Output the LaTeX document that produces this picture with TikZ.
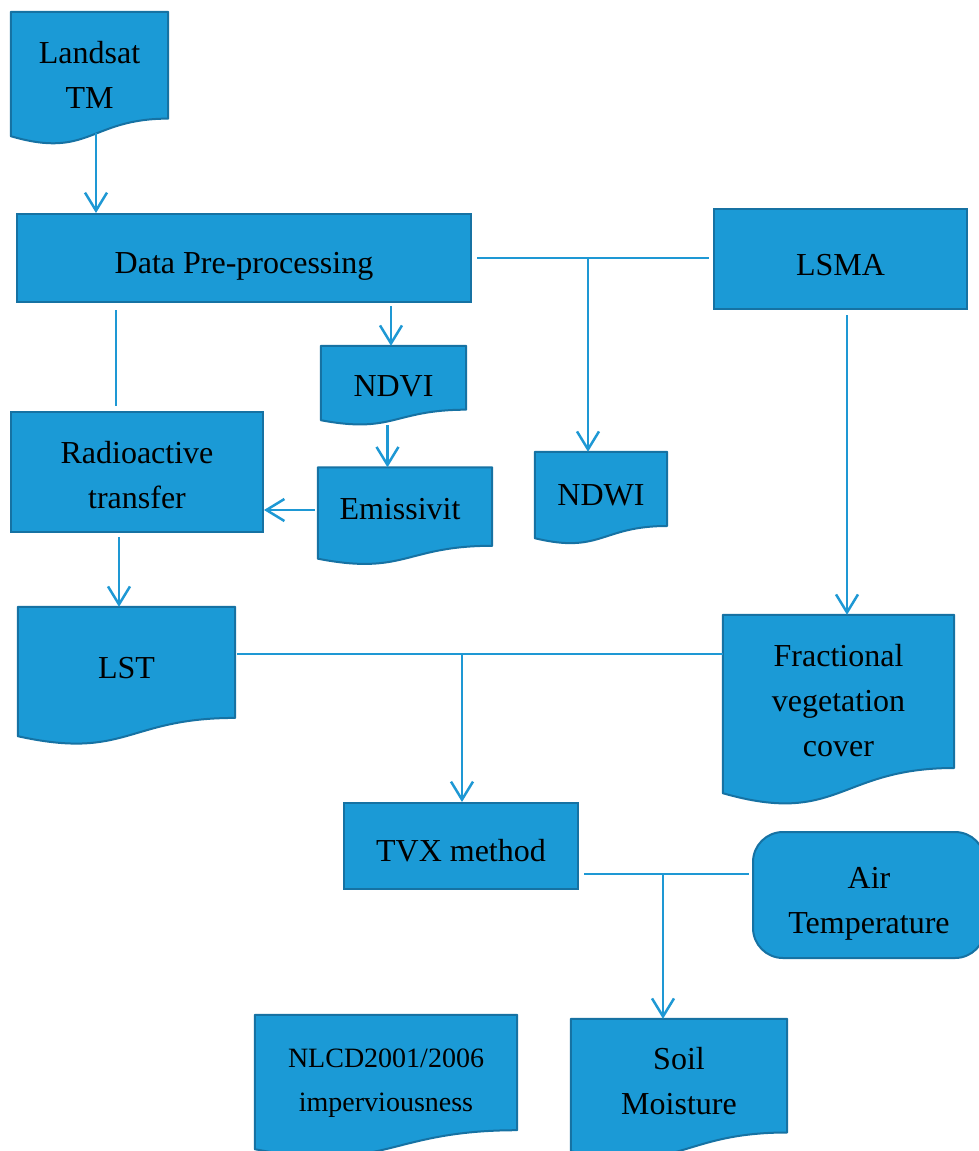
\documentclass[tikz,border=0pt]{standalone}
\usepackage{fontspec}
\setmainfont{Liberation Serif}
\usetikzlibrary{arrows.meta,calc}
\definecolor{boxfill}{RGB}{27,154,214}
\definecolor{boxline}{RGB}{22,114,163}
\definecolor{connc}{RGB}{30,152,212}
\pgfdeclarelayer{bg}
\pgfsetlayers{bg,main}
\newcommand{\mydocshape}[1]{%
 \begin{pgfonlayer}{bg}
 \path[docstyle] let \p1=(#1.north west), \p2=(#1.south east) in
   (\x1,\y1) -- (\x2,\y1) -- (\x2,{\y1+0.8587*(\y2-\y1)})
   .. controls ({0.5*(\x1+\x2)},{\y1+0.8587*(\y2-\y1)}) and ({0.5*(\x1+\x2)},{\y1+1.1858*(\y2-\y1)}) .. (\x1,\y2) -- cycle;
 \end{pgfonlayer}}
\tikzset{
  base/.style={font=\fontsize{32}{45}\selectfont, align=center, inner sep=0pt, text=black, text depth=0pt},
  procbox/.style={base, draw=boxline, fill=boxfill, line width=2pt},
  docnode/.style={base},
  docstyle/.style={draw=boxline, fill=boxfill, line width=2pt, line join=round},
  conn/.style={draw=connc, line width=2.5pt},
  thinconn/.style={draw=connc, line width=1.5pt},
  arr/.style={conn, -{Straight Barb[length=18pt,width=22pt]}},
}
\begin{document}
\begin{tikzpicture}[x=1pt,y=-1pt]
\useasboundingbox (0,0) rectangle (979,1151);

% process boxes
\node[procbox, minimum width=454pt, minimum height=88pt, text height=31pt] (datapre) at (244,258) {Data Pre-processing};
\node[procbox, minimum width=253pt, minimum height=100pt, text height=32pt] (lsma) at (840.5,259) {LSMA};
\node[procbox, minimum width=252pt, minimum height=120pt, text height=72pt] (radio) at (137,472) {Radioactive\\transfer};
\node[procbox, minimum width=234pt, minimum height=86pt, text height=30pt] (tvx) at (461,846) {TVX method};
\node[procbox, rounded corners=30pt, minimum width=232pt, minimum height=126pt, text height=76pt] (air) at (869,895) {Air\\Temperature};

% document boxes
\node[docnode, minimum width=157pt, minimum height=124pt, text height=68pt] (landsat) at (89.5,74) {Landsat\\TM};
\node[docnode, minimum width=145pt, minimum height=74pt, text height=26pt] (ndvi) at (393.5,383) {NDVI};
\node[docnode, minimum width=174pt, minimum height=91pt, text height=12pt] (emis) at (405,513) {\hspace*{-10pt}Emissivit};
\node[docnode, minimum width=132pt, minimum height=86pt, text height=20pt] (ndwi) at (601,495) {NDWI};
\node[docnode, minimum width=217pt, minimum height=129pt, text height=13pt] (lst) at (126.5,671.5) {LST};
\node[docnode, minimum width=231pt, minimum height=178pt, text height=104pt] (fvc) at (838.5,704) {Fractional\\vegetation\\cover};
\node[docnode, minimum width=262pt, minimum height=134pt, text height=59pt, font=\fontsize{28}{44}\selectfont] (nlcd) at (386,1082) {NLCD2001/2006\\imperviousness};
\node[docnode, minimum width=216pt, minimum height=132pt, text height=58pt] (soil) at (679,1085) {Soil\\Moisture};

\mydocshape{landsat}
\mydocshape{ndvi}
\mydocshape{emis}
\mydocshape{ndwi}
\mydocshape{lst}
\mydocshape{fvc}
\mydocshape{nlcd}
\mydocshape{soil}

% junction coordinates
\coordinate (j1) at (588,258);
\coordinate (j2) at (462,654);
\coordinate (j3) at (663,874);

% connectors
\draw[arr] ([xshift=6.5pt,yshift=3pt]landsat.south) -- ([xshift=6.5pt]landsat.south |- datapre.north);
\draw[arr] ([xshift=-2.5pt,yshift=-3pt]ndvi.north |- datapre.south) -- ([xshift=-2.5pt]ndvi.north);
\draw[arr] ([xshift=-6pt,yshift=-5pt]ndvi.south) -- ([xshift=-6pt]ndvi.south |- emis.north);
\draw[conn] ([xshift=-21pt,yshift=-7pt]radio.north |- datapre.south) -- ([xshift=-21pt,yshift=5pt]radio.north);
\draw[conn] ([xshift=5pt]datapre.east) -- ([xshift=-4pt]lsma.west |- datapre.east);
\draw[arr] (j1) -- (j1 |- ndwi.north);
\draw[arr] ([xshift=-3pt,yshift=3pt]emis.west) -- ([yshift=3pt]radio.east |- emis.west);
\draw[arr] ([xshift=-18pt,yshift=-4pt]radio.south) -- ([xshift=-18pt]radio.south |- lst.north);
\draw[arr] ([xshift=6.5pt,yshift=-5pt]lsma.south) -- ([xshift=6.5pt]lsma.south |- fvc.north);
\draw[thinconn] ([xshift=2pt]lst.east |- j2) -- (fvc.west |- j2);
\draw[arr] (j2) -- (j2 |- tvx.north);
\draw[conn] ([xshift=5pt]tvx.east |- j3) -- ([xshift=-3pt]air.west |- j3);
\draw[arr] (j3) -- (j3 |- soil.north);
\end{tikzpicture}
\end{document}
